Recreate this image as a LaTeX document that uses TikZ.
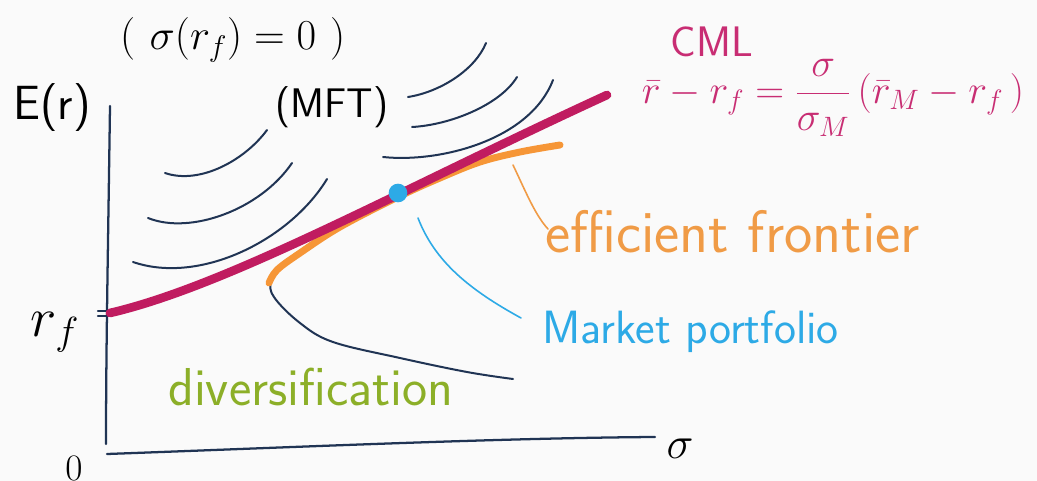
\RequirePackage{fix-cm}
\documentclass[tikz,border=0pt]{standalone}
\usepackage{fontspec}
\definecolor{bgc}{RGB}{250,250,250}
\definecolor{ink}{RGB}{32,52,84}
\definecolor{cml}{RGB}{192,28,96}
\definecolor{cmltext}{RGB}{200,45,115}
\definecolor{eff}{RGB}{246,150,55}
\definecolor{efftext}{RGB}{240,155,70}
\definecolor{mkt}{RGB}{45,170,230}
\definecolor{div}{RGB}{140,175,40}
\begin{document}
\begin{tikzpicture}[x=0.75pt,y=-0.75pt,line cap=round,line join=round,
  inkline/.style={draw=ink,line width=1.5pt},
  axisline/.style={draw=ink,line width=1.7pt},
  cmlline/.style={draw=cml,line width=6.5pt},
  effline/.style={draw=eff,line width=5.2pt},
  leader/.style={line width=1.2pt},
  lbl/.style={inner sep=0pt,font=\sffamily\fontsize{#1}{#1}\selectfont},
  mth/.style={inner sep=0pt,font=\fontsize{#1}{#1}\selectfont}]
\fill[bgc] (0,0) rectangle (1037,481);
\useasboundingbox (0,0) rectangle (1037,481);

% axes
\draw[axisline] (110,106) .. controls (108,250) and (106,350) .. (106,444);
\draw[axisline] (107,454) .. controls (300,447) and (500,438) .. (655,437);
\draw[axisline] (98,311) -- (111,311);
\draw[axisline] (98,316) -- (111,316);

% indifference curves
\draw[inkline] (165,173) .. controls (200,185) and (245,160) .. (267,130);
\draw[inkline] (148,218) .. controls (190,235) and (260,210) .. (292,163);
\draw[inkline] (133,262) .. controls (200,285) and (290,240) .. (327,179);
\draw[inkline] (408,97) .. controls (440,92) and (475,70) .. (486,43);
\draw[inkline] (412,127) .. controls (450,125) and (500,105) .. (517,77);
\draw[inkline] (383,157) .. controls (440,163) and (530,140) .. (553,80);

% portfolio hyperbola
\draw[inkline] plot[smooth,tension=0.6] coordinates {(318,238) (290,259) (272,280) (274,297) (300,323) (333,342) (400,358) (467,372) (513,379)};

% efficient frontier
\draw[effline] plot[smooth,tension=0.6] coordinates {(269,283) (277,270) (300,253) (340,227) (398,197) (440,178) (480,162) (520,152) (560,145)};

% capital market line
\draw[cmlline] (110,313) .. controls (230,285) and (400,190) .. (607,95);

% market portfolio dot
\node[circle,fill=mkt,inner sep=0pt,minimum size=14pt] (M) at (398,193) {};

% labels
\node[mth=32pt] (sig0) at (233,40) {(\,\,$\sigma(r_f)=0$\,\,)};
\node[lbl=31pt] (mft) at (332,107) {(MFT)};
\node[lbl=36pt] (Er) at (52,108) {E(r)};
\node[mth=42pt] (rf) at (55,332) {$r_f$};
\node[mth=28pt] (zero) at (74,468) {$0$};
\node[mth=34pt] (sigx) at (680,449) {$\sigma$};
\node[lbl=32pt,text=cmltext] (cmlt) at (712,42) {CML};
\node[mth=30pt,text=cmltext] (eq) at (833,98) {$\displaystyle \bar r-r_f=\frac{\sigma}{\sigma_M}\,(\bar r_M-r_f\,)$};
\node[lbl=45pt,text=efftext,anchor=base west] (efft) at (545,252) {efficient frontier};
\node[lbl=35pt,text=mkt,anchor=base west] (mktt) at (542,343) {Market portfolio};
\node[lbl=40pt,text=div,anchor=base west] (divt) at (168,405) {diversification};

% leaders
\coordinate (efS) at (513,165);
\coordinate (efE) at (548,229);
\draw[leader,draw=efftext] (efS) .. controls (525,190) and (535,215) .. (efE);
\coordinate (mpS) at (418,218);
\coordinate (mpE) at (521,318);
\draw[leader,draw=mkt] (mpS) .. controls (435,262) and (470,290) .. (mpE);
\end{tikzpicture}
\end{document}
